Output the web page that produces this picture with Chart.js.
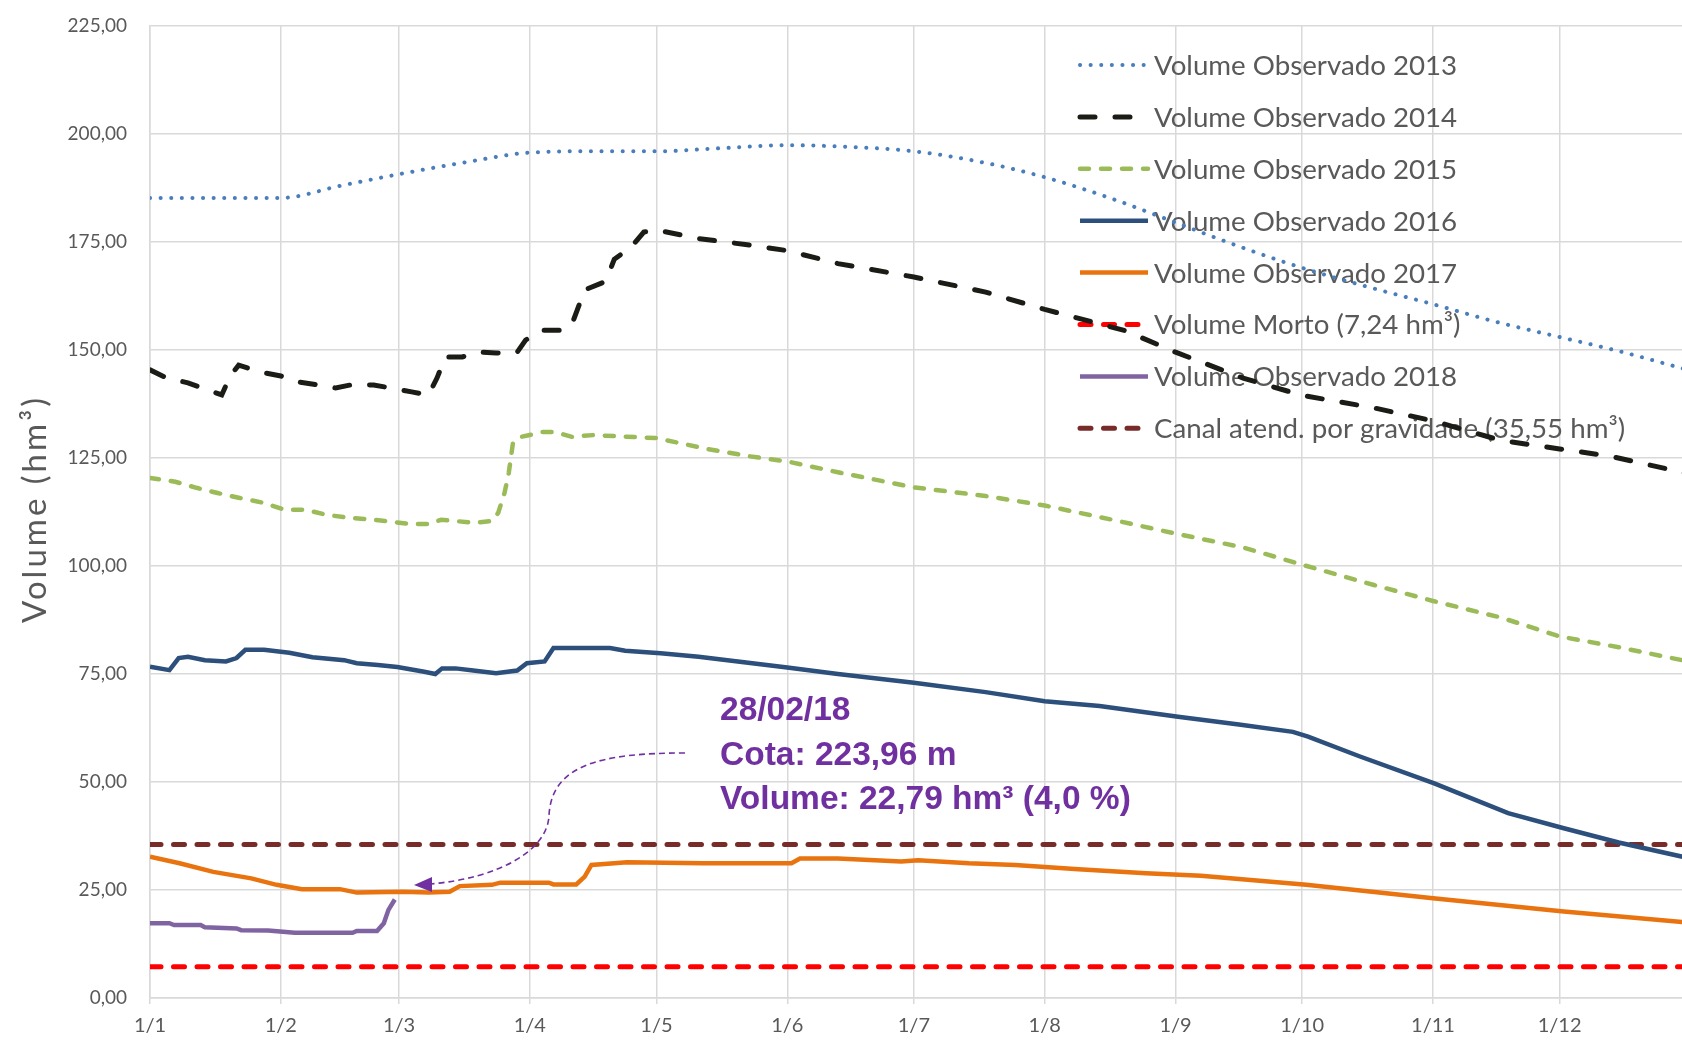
<!DOCTYPE html>
<html>
<head>
<meta charset="utf-8">
<script src="https://cdn.jsdelivr.net/npm/chart.js@4.4.0/dist/chart.umd.min.js"></script>
<style>
  body { margin: 0; background: #fff; }
  #wrap { width: 1682px; height: 1041px; }
</style>
</head>
<body>
<div id="wrap"><canvas id="volume"></canvas></div>
<script>
// dias contados a partir de 1/1 (0 = 1 de janeiro)
const monthStarts = [0, 31, 59, 90, 120, 151, 181, 212, 243, 273, 304, 334];
const monthLabels = ['1/1', '1/2', '1/3', '1/4', '1/5', '1/6', '1/7', '1/8', '1/9', '1/10', '1/11', '1/12'];

const days2013 = [0, 15, 31, 45, 59, 75, 90, 105, 120, 135, 151, 166, 181, 197, 212, 228, 243, 258, 273, 289, 304, 319, 334, 349, 364];
const vol2013 = [185.2, 185.2, 185.2, 188.0, 190.7, 193.5, 195.7, 196.0, 196.0, 196.7, 197.4, 197.0, 196.0, 193.5, 190.0, 185.0, 179.5, 174.0, 169.0, 164.5, 160.6, 156.5, 153.0, 149.5, 145.5];

const days2014 = [0, 4, 9, 13, 17, 19, 21, 26, 31, 35, 40, 44, 48, 53, 57, 62, 66, 68, 70, 74, 78, 82, 87, 89, 93, 98, 100, 103, 108, 110, 114, 117, 120, 130, 142, 151, 163, 181, 198, 212, 231, 243, 259, 273, 290, 304, 320, 334, 346, 364];
const vol2014 = [145.4, 143.5, 142.4, 141.0, 139.6, 144.0, 146.5, 144.9, 144.0, 142.6, 141.9, 141.2, 142.0, 141.9, 141.2, 140.3, 139.6, 143.5, 148.4, 148.4, 149.5, 149.3, 149.5, 152.3, 154.6, 154.6, 156.0, 163.9, 165.9, 171.0, 173.8, 177.3, 177.8, 175.8, 174.3, 173.0, 170.0, 166.9, 163.4, 159.4, 154.5, 149.5, 143.5, 139.5, 136.6, 133.6, 129.1, 127.1, 125.4, 121.5];

const days2015 = [0, 6, 11, 16, 21, 27, 32, 37, 42, 48, 53, 62, 66, 69, 77, 81, 82.5, 84, 85, 86, 88, 93, 96, 100, 105, 120, 132, 142, 151, 163, 181, 198, 212, 229, 243, 259, 273, 290, 304, 320, 334, 348, 364];
const vol2015 = [120.4, 119.5, 118.1, 116.9, 115.8, 114.6, 113.0, 113.0, 111.8, 111.1, 110.7, 109.7, 109.7, 110.7, 110.0, 110.4, 112.3, 116.9, 121.5, 128.5, 129.9, 131.0, 131.0, 129.9, 130.3, 129.6, 127.1, 125.4, 124.2, 121.7, 118.2, 116.2, 114.0, 110.5, 107.5, 104.3, 100.3, 95.6, 91.9, 88.1, 83.7, 81.2, 78.0];

const days2016 = [0, 4.6, 6.8, 9, 13, 18, 20.5, 22.6, 27, 33, 38.5, 46, 49, 54, 58.6, 65, 67.6, 69.2, 72.4, 76.6, 82, 87, 89.3, 93.5, 95.6, 102, 109, 112.6, 121, 130, 151, 163, 181, 198, 212, 225, 243.6, 258, 270.8, 274.4, 286.7, 304.3, 321.8, 335, 348, 364];
const vol2016 = [76.7, 75.9, 78.7, 79.0, 78.2, 77.9, 78.7, 80.6, 80.6, 79.9, 78.9, 78.2, 77.5, 77.1, 76.6, 75.5, 75.0, 76.3, 76.3, 75.8, 75.2, 75.8, 77.5, 77.9, 81.0, 81.0, 81.0, 80.4, 79.8, 79.0, 76.5, 75.0, 73.0, 70.8, 68.7, 67.6, 65.1, 63.3, 61.6, 60.5, 55.9, 49.7, 42.8, 39.3, 36.0, 32.5];

const days2017 = [0, 7, 15, 24, 30, 36, 45, 49, 60, 66, 71, 73.4, 81, 83, 94.5, 95.6, 101, 103, 104.6, 110, 113, 131, 152, 154, 163, 178, 182, 194, 205, 220, 236, 249, 274, 304, 335, 364];
const vol2017 = [32.7, 31.2, 29.2, 27.7, 26.2, 25.2, 25.2, 24.4, 24.6, 24.4, 24.6, 25.9, 26.2, 26.7, 26.7, 26.3, 26.3, 28.1, 30.8, 31.2, 31.4, 31.2, 31.2, 32.3, 32.3, 31.6, 31.9, 31.2, 30.8, 29.8, 28.9, 28.3, 26.2, 23.1, 20.0, 17.5];

const days2018 = [0, 4.6, 5.7, 12, 13, 20.5, 21.6, 28, 34.3, 48, 49, 53.8, 55.4, 56.5, 58];
const vol2018 = [17.3, 17.3, 16.9, 16.9, 16.4, 16.1, 15.7, 15.6, 15.1, 15.1, 15.5, 15.5, 17.3, 20.4, 22.8];

const yearEnds = [0, 364];
const volumeMorto = 7.24;
const canalGravidade = 35.55;

const annotationLines = ['28/02/18', 'Cota: 223,96 m', 'Volume: 22,79 hm³ (4,0 %)'];

function pts(days, vals) {
    return days.map((d, i) => ({ x: d, y: vals[i] }));
}

const datasets = [
    { label: 'Volume Observado 2013', data: pts(days2013, vol2013), borderColor: '#4a7ebb', borderWidth: 4, borderDash: [0.1, 10.5], borderCapStyle: 'round', cubicInterpolationMode: 'monotone' },
    { label: 'Volume Observado 2014', data: pts(days2014, vol2014), borderColor: '#1c1c16', borderWidth: 5, borderDash: [15, 20], borderCapStyle: 'round' },
    { label: 'Volume Observado 2015', data: pts(days2015, vol2015), borderColor: '#9bbb59', borderWidth: 4.5, borderDash: [9, 12], borderCapStyle: 'round' },
    { label: 'Volume Observado 2016', data: pts(days2016, vol2016), borderColor: '#2c4f7c', borderWidth: 4.5 },
    { label: 'Volume Observado 2017', data: pts(days2017, vol2017), borderColor: '#e8730f', borderWidth: 4.5 },
    { label: 'Volume Morto (7,24 hm³)', data: pts(yearEnds, [volumeMorto, volumeMorto]), borderColor: '#ff0000', borderWidth: 5, borderDash: [11, 12.5], borderCapStyle: 'round' },
    { label: 'Volume Observado 2018', data: pts(days2018, vol2018), borderColor: '#8064a2', borderWidth: 4.5 },
    { label: 'Canal atend. por gravidade (35,55 hm³)', data: pts(yearEnds, [canalGravidade, canalGravidade]), borderColor: '#772c2a', borderWidth: 5, borderDash: [11, 12.5], borderCapStyle: 'round' }
];
datasets.forEach(ds => { ds.pointRadius = 0; ds.fill = false; });

// legenda desenhada por baixo das linhas, como no original
const sideLegend = {
    id: 'sideLegend',
    beforeDatasetsDraw(chart) {
        const ctx = chart.ctx;
        ctx.save();
        ctx.font = '27.7px Lato';
        ctx.fillStyle = '#595959';
        ctx.textBaseline = 'middle';
        chart.data.datasets.forEach((ds, i) => {
            const y = 65 + i * 51.9;
            ctx.beginPath();
            ctx.strokeStyle = ds.borderColor;
            ctx.lineWidth = ds.borderWidth;
            ctx.lineCap = ds.borderCapStyle || 'butt';
            ctx.setLineDash(ds.borderDash || []);
            ctx.moveTo(1080, y);
            ctx.lineTo(1148, y);
            ctx.stroke();
            ctx.fillText(ds.label, 1154, y + 1);
        });
        ctx.restore();
    }
};

const extras = {
    id: 'extras',
    afterDatasetsDraw(chart) {
        const ctx = chart.ctx;
        ctx.save();
        // texto do último dado
        ctx.font = 'bold 33.5px "Liberation Sans", Arial, sans-serif';
        ctx.fillStyle = '#7030a0';
        ctx.textBaseline = 'alphabetic';
        annotationLines.forEach((t, i) => ctx.fillText(t, 720, 720 + i * 44.5));
        // seta tracejada
        ctx.strokeStyle = '#7030a0';
        ctx.lineWidth = 1.6;
        ctx.setLineDash([6, 4]);
        ctx.beginPath();
        ctx.moveTo(685, 753);
        ctx.bezierCurveTo(600, 753, 552, 765, 549, 815);
        ctx.bezierCurveTo(548, 850, 500, 878, 430, 884);
        ctx.stroke();
        ctx.setLineDash([]);
        ctx.beginPath();
        ctx.moveTo(414, 885);
        ctx.lineTo(432, 877);
        ctx.lineTo(432, 892);
        ctx.closePath();
        ctx.fill();
        ctx.restore();
    },
    afterDraw(chart) {
        const ctx = chart.ctx;
        ctx.save();
        ctx.translate(35, 509);
        ctx.rotate(-Math.PI / 2);
        ctx.font = '33px Lato';
        ctx.letterSpacing = '3px';
        ctx.fillStyle = '#595959';
        ctx.textAlign = 'center';
        ctx.textBaseline = 'middle';
        ctx.fillText('Volume (hm³)', 0, 0);
        ctx.restore();
    }
};

new Chart(document.getElementById('volume'), {
    type: 'line',
    data: { datasets: datasets },
    options: {
        responsive: true,
        maintainAspectRatio: false,
        animation: false,
        layout: { padding: { top: 26, left: 0, right: 0, bottom: 0 } },
        plugins: { legend: { display: false }, tooltip: { enabled: false } },
        scales: {
            x: {
                type: 'linear',
                min: 0,
                max: 363,
                afterBuildTicks: axis => { axis.ticks = monthStarts.map(v => ({ value: v })); },
                afterFit: s => { s.height = 43; },
                grid: { color: '#d9d9d9', lineWidth: 1.5, tickLength: 6 },
                border: { color: '#d9d9d9', width: 1.5 },
                ticks: {
                    autoSkip: false,
                    maxRotation: 0,
                    padding: 10,
                    color: '#595959',
                    font: { family: 'Lato', size: 20 },
                    callback: v => monthLabels[monthStarts.indexOf(v)]
                }
            },
            y: {
                min: 0,
                max: 225,
                afterFit: s => { s.width = 150; s.paddingTop = 0; s.paddingBottom = 0; },
                grid: { color: '#d9d9d9', lineWidth: 1.5, drawTicks: false },
                border: { color: '#d9d9d9', width: 1.5 },
                ticks: {
                    stepSize: 25,
                    padding: 23,
                    color: '#595959',
                    font: { family: 'Lato', size: 19 },
                    callback: v => v.toFixed(2).replace('.', ',')
                }
            }
        }
    },
    plugins: [sideLegend, extras]
});
</script>
</body>
</html>
